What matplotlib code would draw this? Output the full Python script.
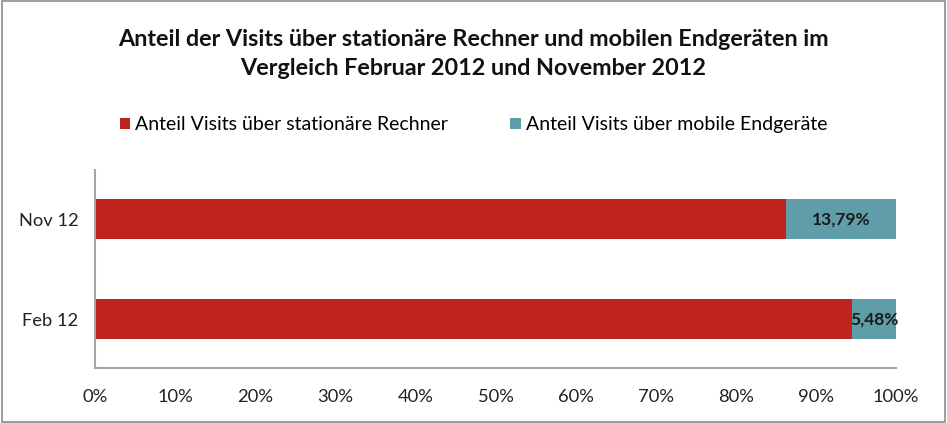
import matplotlib.pyplot as plt
from matplotlib.patches import Rectangle

plt.rcParams['font.family'] = ['Lato', 'DejaVu Sans']

# data
kategorien = ['Feb 12', 'Nov 12']
stationaer = [94.52, 86.21]
mobil = [5.48, 13.79]
mobil_labels = ['5,48%', '13,79%']
x_ticks = list(range(0, 101, 10))
x_labels = [str(t) + '%' for t in x_ticks]

rot = '#BE231E'
teal = '#5F9DA8'

fig = plt.figure(figsize=(9.47, 4.23), dpi=100)
ax = fig.add_axes([0.1003, 0.130, 0.8458, 0.468])

ypos = list(range(len(kategorien)))
ax.barh(ypos, stationaer, height=0.4, color=rot, label='Anteil Visits über stationäre Rechner')
ax.barh(ypos, mobil, left=stationaer, height=0.4, color=teal, label='Anteil Visits über mobile Endgeräte')

for i in range(len(kategorien)):
    ax.text(stationaer[i] + mobil[i] / 2, ypos[i], mobil_labels[i], ha='center', va='center',
            fontsize=12.5, fontweight='bold', color='#1A1A1A')

ax.set_xlim(0, 100)
ax.set_ylim(-0.49, 1.49)
ax.set_xticks(x_ticks)
ax.set_xticklabels(x_labels)
ax.set_yticks(ypos)
ax.set_yticklabels(kategorien)
ax.tick_params(axis='x', length=0, pad=15, labelsize=13.2, colors='#222222')
ax.tick_params(axis='y', length=0, pad=12, labelsize=13.2, colors='#222222')

for s in ['top', 'right']:
    ax.spines[s].set_visible(False)
for s in ['left', 'bottom']:
    ax.spines[s].set_color('#A6A6A6')
    ax.spines[s].set_linewidth(1.5)

fig.text(0.5, 0.872, 'Anteil der Visits über stationäre Rechner und mobilen Endgeräten im\nVergleich Februar 2012 und November 2012',
         ha='center', va='center', fontsize=16.8, fontweight='bold', color='#111111', linespacing=1.5)

fig.legend(loc='center', bbox_to_anchor=(0.5, 0.705), ncol=2, frameon=False, fontsize=14,
           handlelength=0.55, handleheight=0.55, handletextpad=0.25, columnspacing=3.2)

fig.patches.append(Rectangle((0.002, 0.003), 0.996, 0.994, transform=fig.transFigure,
                             fill=False, edgecolor='#8C8C8C', linewidth=1.2))

fig.savefig('out.png', dpi=100)
